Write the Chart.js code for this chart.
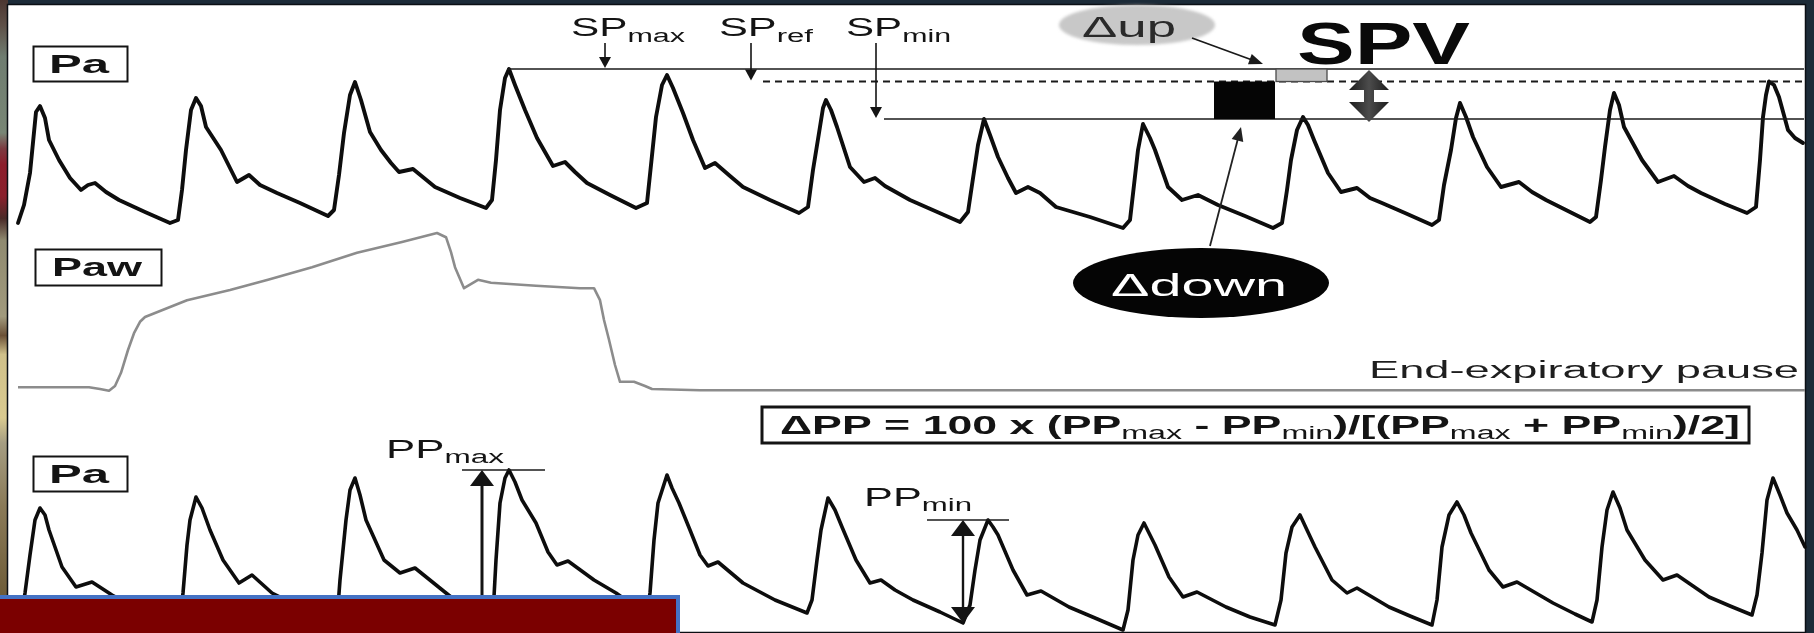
<!DOCTYPE html>
<html>
<head>
<meta charset="utf-8">
<title>Pa / Paw – SPV and ΔPP</title>
<style>
  html, body { margin: 0; padding: 0; background: #1c2b38; overflow: hidden; }
  #wrap { position: absolute; left: 0; top: 0; width: 1814px; height: 633px; }
  canvas { display: block; }
</style>
<script src="https://cdn.jsdelivr.net/npm/chart.js"></script>
</head>
<body>
<div id="wrap"><canvas id="c" width="1814" height="633"></canvas></div>
<script>
// ---- Arterial pressure, top trace (time in ms, pressure in mmHg) ----
const paTopTime = [
  0,30,60,90,110,135,155,205,260,315,
  350,385,440,505,635,760,800,820,840,865,
  890,915,940,1015,1060,1095,1155,1210,1295,1410,
  1550,1580,1605,1630,1660,1685,1715,1760,1815,1865,
  1905,1975,2030,2085,2210,2340,2370,2390,2410,2435,
  2455,2485,2535,2595,2675,2735,2785,2845,2960,3090,
  3145,3165,3190,3220,3245,3275,3325,3375,3435,3485,
  3560,3625,3760,3905,3950,3975,4005,4025,4040,4065,
  4095,4160,4230,4285,4335,4460,4585,4710,4750,4770,
  4800,4830,4860,4900,4950,4990,5050,5110,5190,5360,
  5525,5560,5580,5600,5625,5660,5685,5750,5820,5900,
  6000,6135,6275,6320,6345,6365,6395,6425,6450,6480,
  6550,6615,6695,6760,6820,6935,7070,7105,7130,7165,
  7190,7210,7240,7275,7345,7415,7505,7570,7640,7760,
  7860,7890,7915,7935,7960,7980,8005,8030,8120,8200,
  8280,8350,8415,8535,8645,8690,8710,8725,8740,8755,
  8780,8805,8850,8885,8925
];
const paTopPressure = [
  58.4,65.6,78.4,102.8,105.2,100.4,91.6,83.6,76.4,71.6,
  73.6,74.4,70.8,67.6,62.8,58.4,59.6,71.6,87.6,103.6,
  108.4,105.2,96.8,87.6,80.4,74.8,77.6,73.6,70.4,66.4,
  61.2,63.6,77.6,94.4,109.6,114.8,107.6,94.8,87.6,82.4,
  78.8,80.0,76.4,72.8,68.4,64.4,67.6,83.6,103.6,116.4,
  120.0,113.6,103.6,92.4,81.2,82.8,78.8,74.4,69.6,64.4,
  66.4,81.6,100.8,113.6,117.6,112.4,102.4,91.6,80.4,82.4,
  77.2,72.8,67.6,62.4,64.8,79.6,94.4,104.4,107.6,103.6,
  96.8,80.8,74.8,76.4,73.2,67.6,63.2,58.8,62.8,73.6,
  89.6,100.0,93.6,84.8,76.4,70.4,72.8,70.4,64.8,60.8,
  56.4,59.6,73.6,87.6,98.0,92.4,87.6,72.8,67.6,69.6,
  65.6,61.2,56.4,58.4,71.6,83.6,95.6,100.8,97.6,91.6,
  78.4,70.8,72.4,68.4,66.4,62.4,57.6,59.6,73.6,87.6,
  100.4,106.4,100.8,92.8,80.8,72.8,74.8,70.8,67.6,62.8,
  58.8,60.8,75.6,88.8,103.6,110.4,105.6,96.8,83.6,74.8,
  77.2,73.2,70.4,66.0,62.4,64.8,83.6,100.8,109.6,115.0,
  113.6,108.8,95.6,92.4,90.4
];

// ---- Airway pressure (time in ms, pressure in cmH2O) ----
const pawTime = [
  0,355,410,455,485,515,550,580,610,635,
  845,1060,1250,1470,1695,1920,2095,2140,2165,2185,
  2230,2300,2365,2590,2810,2880,2910,2930,2955,2985,
  3010,3080,3135,3170,3410,8935
];
const pawPressure = [
  4.8,4.8,4.5,4.2,5.0,7.2,11.0,13.8,15.7,16.5,
  19.3,21.0,22.7,24.8,27.2,29.0,30.5,29.8,27.3,24.8,
  21.3,22.7,22.2,21.7,21.3,21.3,19.3,16.0,12.7,8.5,
  5.7,5.7,5.0,4.5,4.3,4.3
];

// ---- Arterial pressure, bottom trace (time in ms, pressure in mmHg) ----
const paBotTime = [
  10,35,60,85,110,135,155,220,290,370,470,610,785,810,825,845,860,890,920,960,
  1025,1105,1170,1270,1410,1570,1595,1610,1640,1660,1685,1710,1740,1830,1910,1985,
  2140,2260,2350,2375,2390,2410,2435,2455,2485,2520,2590,2650,2695,2750,2880,2990,
  3110,3135,3160,3180,3200,3245,3270,3305,3360,3410,3450,3500,3625,3785,3945,
  3970,3995,4015,4050,4085,4120,4190,4260,4315,4385,4475,4610,4725,
  4760,4785,4810,4850,4875,4900,4975,5045,5115,5255,5385,5525,
  5550,5575,5600,5630,5660,5685,5755,5825,5895,6040,6160,6285,
  6315,6340,6370,6410,6445,6485,6570,6645,6695,6855,6960,7070,
  7095,7120,7155,7195,7230,7265,7355,7425,7495,7675,7785,7870,
  7895,7920,7945,7975,8010,8045,8135,8225,8295,8455,8560,8670,
  8695,8720,8745,8775,8810,8845,8895,8935
];
const paBotPressure = [
  58.0,70.8,86.0,100.0,104.8,102.0,96.0,81.2,73.2,75.2,70.0,64.0,57.6,60.0,70.8,90.0,100.0,109.2,104.8,96.0,
  84.0,74.8,78.0,70.8,65.2,56.8,60.0,76.0,100.0,112.0,116.8,110.0,100.0,84.0,78.8,80.8,
  70.8,63.2,56.8,62.0,84.0,106.8,116.8,120.0,115.2,108.0,98.8,87.2,82.0,83.6,76.0,70.8,
  64.0,58.0,70.8,92.0,106.8,118.0,112.8,106.8,96.0,86.0,81.6,83.2,74.8,68.0,62.8,
  68.0,84.0,96.0,108.8,104.0,97.2,84.0,74.8,76.0,72.0,68.0,63.2,58.8,
  66.0,80.0,92.0,100.0,97.2,94.0,80.0,70.0,71.6,65.2,60.8,56.0,
  64.0,84.0,94.0,98.8,94.0,90.0,77.2,69.2,71.2,65.2,61.2,58.0,
  68.0,86.8,97.2,102.0,96.0,89.2,76.0,70.8,72.8,65.2,61.6,58.0,
  68.0,89.2,102.0,107.2,102.0,94.8,80.0,73.2,75.2,66.8,62.4,59.2,
  68.0,89.2,104.0,111.2,104.8,96.0,84.0,76.0,78.0,69.2,65.6,62.0,
  70.0,86.8,108.0,116.8,110.0,102.8,96.0,89.2
];

// Systolic reference levels (mmHg) and pulse-pressure peaks / feet (mmHg)
const spLevels = { max: 120, ref: 115, min: 100 };
const ppLevels = { max: 120, min: 100 };
const ppFeet   = { max: 56.8, min: 58.8 };

const toPoints = (ts, vs) => ts.map((t, i) => ({ x: t, y: vs[i] }));

const FONT = '"Liberation Sans", Arial, Helvetica, sans-serif';
const fontStr = (size, bold) => (bold ? 'bold ' : '') + size + 'px ' + FONT;

// Text runs (with subscripts) stretched to a given width
function richText(ctx, parts, left, base, width, o) {
  let nat = 0;
  for (const [t, sub] of parts) {
    ctx.font = fontStr(sub ? o.sub : o.size, sub ? o.subBold : o.bold);
    nat += ctx.measureText(t).width;
  }
  const k = width / nat;
  ctx.save();
  ctx.translate(left, base);
  ctx.scale(k, 1);
  ctx.fillStyle = o.color || '#111';
  ctx.textBaseline = 'alphabetic';
  ctx.textAlign = 'left';
  let cx = 0;
  for (const [t, sub] of parts) {
    ctx.font = fontStr(sub ? o.sub : o.size, sub ? o.subBold : o.bold);
    ctx.fillText(t, cx, sub ? o.drop : 0);
    cx += ctx.measureText(t).width;
  }
  ctx.restore();
}

function arrowHead(ctx, x1, y1, x2, y2, len, w) {
  const a = Math.atan2(y2 - y1, x2 - x1);
  const bx = x2 - len * Math.cos(a), by = y2 - len * Math.sin(a);
  ctx.beginPath();
  ctx.moveTo(x2, y2);
  ctx.lineTo(bx + (w / 2) * Math.sin(a), by - (w / 2) * Math.cos(a));
  ctx.lineTo(bx - (w / 2) * Math.sin(a), by + (w / 2) * Math.cos(a));
  ctx.closePath();
  ctx.fill();
}

function arrow(ctx, x1, y1, x2, y2, lw, len, w, color) {
  ctx.save();
  ctx.strokeStyle = color; ctx.fillStyle = color; ctx.lineWidth = lw;
  const a = Math.atan2(y2 - y1, x2 - x1);
  ctx.beginPath();
  ctx.moveTo(x1, y1);
  ctx.lineTo(x2 - (len - 1) * Math.cos(a), y2 - (len - 1) * Math.sin(a));
  ctx.stroke();
  arrowHead(ctx, x1, y1, x2, y2, len, w);
  ctx.restore();
}

function hLine(ctx, x1, x2, y, lw, color, dash) {
  ctx.save();
  ctx.strokeStyle = color; ctx.lineWidth = lw;
  if (dash) ctx.setLineDash(dash);
  ctx.beginPath(); ctx.moveTo(x1, y); ctx.lineTo(x2, y); ctx.stroke();
  ctx.restore();
}

const decor = {
  id: 'decor',
  beforeDraw(chart) {
    const ctx = chart.ctx, W = chart.width, H = chart.height;
    ctx.save();
    ctx.fillStyle = '#1c2b38';
    ctx.fillRect(0, 0, W, H);
    // photo strip on the left margin
    const g = ctx.createLinearGradient(0, 0, 0, H);
    [[0, '#4c3631'], [0.04, '#5e5048'], [0.09, '#6f7d71'], [0.21, '#788675'], [0.235, '#7c3a40'],
     [0.26, '#8c1d2b'], [0.31, '#8a1f2c'], [0.345, '#4a2a28'], [0.38, '#8f8a70'], [0.5, '#a19a7d'],
     [0.53, '#6b5036'], [0.56, '#cfc08a'], [0.66, '#d9ca90'], [0.70, '#a59d82'], [0.8, '#8a7a58'],
     [0.94, '#6e5c38'], [1, '#5a4a30']].forEach(([p, c]) => g.addColorStop(p, c));
    ctx.fillStyle = g;
    ctx.fillRect(0, 0, 8, H);
    // white sheet
    ctx.fillStyle = '#ffffff';
    ctx.fillRect(8, 5, 1797, 627);
    ctx.strokeStyle = '#0b0f14'; ctx.lineWidth = 1.5;
    ctx.strokeRect(7.5, 4.5, 1798, 628);
    ctx.restore();
  },
  afterDatasetsDraw(chart) {
    const ctx = chart.ctx, s = chart.scales;
    const X = t => s.x.getPixelForValue(t);
    const YT = v => s.yTop.getPixelForValue(v);
    const YB = v => s.yBot.getPixelForValue(v);
    const RIGHT = 1804;
    const ink = '#141414';

    // channel tags
    ctx.save();
    ctx.strokeStyle = ink; ctx.lineWidth = 2;
    [[33, 46, 94, 35, 'Pa', 49, 60], [35, 249, 126, 36, 'Paw', 52, 90], [33, 456, 94, 35, 'Pa', 49, 60]]
      .forEach(([x, y, w, h, t, tx, tw]) => {
        ctx.strokeRect(x + 0.5, y + 0.5, w, h);
        richText(ctx, [[t, 0]], tx, y + h / 2 + 9, tw, { size: 25, bold: true, color: ink });
      });
    ctx.restore();

    // SP reference lines
    const tPeakMax = paTopTime[paTopPressure.indexOf(spLevels.max)];
    hLine(ctx, X(tPeakMax) - 2, RIGHT, YT(spLevels.max), 1.6, '#1a1a1a');
    hLine(ctx, X(3725), RIGHT, YT(spLevels.ref), 2.2, '#1a1a1a', [7, 5]);
    hLine(ctx, X(4330), RIGHT, YT(spLevels.min), 1.6, '#1a1a1a');

    // SP labels with pointers
    const spOpts = { size: 25, sub: 18, drop: 6, color: ink };
    richText(ctx, [['SP', 0], ['max', 1]], 571, 36, 114, spOpts);
    richText(ctx, [['SP', 0], ['ref', 1]], 719, 36, 94, spOpts);
    richText(ctx, [['SP', 0], ['min', 1]], 846, 36, 105, spOpts);
    arrow(ctx, X(2935), 43, X(2935), YT(spLevels.max) - 1, 1.6, 11, 12, ink);
    arrow(ctx, X(3665), 43, X(3665), YT(spLevels.ref) - 1, 1.6, 11, 12, ink);
    arrow(ctx, X(4290), 43, X(4290), YT(spLevels.min) - 1, 1.6, 11, 12, ink);

    // Δup (grey) and Δdown (black) bars
    ctx.save();
    const gx1 = X(6290), gx2 = X(6545);
    ctx.fillStyle = '#c2c2c2';
    ctx.fillRect(gx1, YT(spLevels.max), gx2 - gx1, YT(spLevels.ref) - YT(spLevels.max));
    ctx.strokeStyle = '#4a4a4a'; ctx.lineWidth = 1.3;
    ctx.strokeRect(gx1, YT(spLevels.max), gx2 - gx1, YT(spLevels.ref) - YT(spLevels.max));
    const bx1 = X(5980), bx2 = X(6285);
    ctx.fillStyle = '#050505';
    ctx.fillRect(bx1, YT(spLevels.ref), bx2 - bx1, YT(spLevels.min) - YT(spLevels.ref));
    ctx.restore();

    // SPV double arrow
    ctx.save();
    const ax = X(6755), y1 = YT(spLevels.max) + 1, y2 = YT(spLevels.min) + 3;
    const ag = ctx.createLinearGradient(ax - 20, 0, ax + 20, 0);
    ag.addColorStop(0, '#1c1c1c'); ag.addColorStop(0.5, '#4c4c4c'); ag.addColorStop(1, '#1c1c1c');
    ctx.fillStyle = ag;
    ctx.beginPath();
    ctx.moveTo(ax, y1);
    ctx.lineTo(ax + 20, y1 + 20); ctx.lineTo(ax + 5, y1 + 20);
    ctx.lineTo(ax + 5, y2 - 20); ctx.lineTo(ax + 20, y2 - 20);
    ctx.lineTo(ax, y2);
    ctx.lineTo(ax - 20, y2 - 20); ctx.lineTo(ax - 5, y2 - 20);
    ctx.lineTo(ax - 5, y1 + 20); ctx.lineTo(ax - 20, y1 + 20);
    ctx.closePath(); ctx.fill();
    ctx.restore();
    richText(ctx, [['SPV', 0]], 1297, 64, 173, { size: 59, bold: true, color: '#0a0a0a' });

    // Δup bubble
    ctx.save();
    ctx.filter = 'blur(1.6px)';
    ctx.fillStyle = '#c8c8c8';
    ctx.beginPath(); ctx.ellipse(1137, 25, 78, 20, 0, 0, Math.PI * 2); ctx.fill();
    ctx.restore();
    richText(ctx, [['Δup', 0]], 1082, 37, 94, { size: 30, color: '#2a2a2a' });
    arrow(ctx, 1192, 38, 1263, 64, 1.8, 14, 11, '#1a1a1a');

    // Δdown bubble
    ctx.save();
    ctx.fillStyle = '#050505';
    ctx.beginPath(); ctx.ellipse(1201, 283, 128, 35, 0, 0, Math.PI * 2); ctx.fill();
    ctx.restore();
    richText(ctx, [['Δdown', 0]], 1111, 296, 176, { size: 32, color: '#ffffff' });
    arrow(ctx, 1210, 246, 1241, 127, 1.8, 14, 12, '#222222');

    // end-expiratory pause note
    richText(ctx, [['End-expiratory pause', 0]], 1369, 378, 430, { size: 23, color: '#1e1e1e' });

    // ΔPP formula
    ctx.save();
    ctx.strokeStyle = ink; ctx.lineWidth = 3;
    ctx.strokeRect(762, 407, 987, 36);
    ctx.restore();
    richText(ctx, [['ΔPP = 100 x (PP', 0], ['max', 1], [' - PP', 0], ['min', 1], [')/[(PP', 0],
                   ['max', 1], [' + PP', 0], ['min', 1], [')/2]', 0]],
             780, 434, 960, { size: 25, bold: true, sub: 18, drop: 5, color: ink });

    // PPmax marker
    hLine(ctx, X(2220), X(2635), YB(ppLevels.max), 1.5, '#1a1a1a');
    arrow(ctx, X(2320), YB(ppFeet.max), X(2320), YB(ppLevels.max), 3, 16, 24, ink);
    richText(ctx, [['PP', 0], ['max', 1]], 386, 458, 118, { size: 25, sub: 18, drop: 5, color: ink });

    // PPmin marker
    hLine(ctx, X(4545), X(4955), YB(ppLevels.min), 1.5, '#1a1a1a');
    const px = X(4725), pTop = YB(ppLevels.min), pBot = YB(ppFeet.min);
    ctx.save();
    ctx.strokeStyle = ink; ctx.fillStyle = ink; ctx.lineWidth = 2.4;
    ctx.beginPath(); ctx.moveTo(px, pTop + 12); ctx.lineTo(px, pBot - 12); ctx.stroke();
    arrowHead(ctx, px, pBot, px, pTop, 16, 24);
    arrowHead(ctx, px, pTop, px, pBot, 16, 24);
    ctx.restore();
    richText(ctx, [['PP', 0], ['min', 1]], 864, 506, 108, { size: 25, sub: 18, drop: 5, color: ink });
  },
  afterDraw(chart) {
    const ctx = chart.ctx;
    // title bar placeholder at the lower left
    ctx.save();
    ctx.fillStyle = '#7b0000';
    ctx.fillRect(0, 596, 679, 37);
    ctx.strokeStyle = '#4472c4'; ctx.lineWidth = 4;
    ctx.strokeRect(-2, 597, 680, 38);
    ctx.restore();
  }
};

new Chart(document.getElementById('c'), {
  type: 'line',
  data: {
    datasets: [
      { label: 'Pa', data: toPoints(paTopTime, paTopPressure), yAxisID: 'yTop',
        borderColor: '#0d0d0d', borderWidth: 3.9, pointRadius: 0, tension: 0,
        borderJoinStyle: 'round', borderCapStyle: 'round' },
      { label: 'Paw', data: toPoints(pawTime, pawPressure), yAxisID: 'yPaw',
        borderColor: '#8c8c8c', borderWidth: 2.6, pointRadius: 0, tension: 0,
        borderJoinStyle: 'round' },
      { label: 'Pa', data: toPoints(paBotTime, paBotPressure), yAxisID: 'yBot',
        borderColor: '#0d0d0d', borderWidth: 3.6, pointRadius: 0, tension: 0,
        borderJoinStyle: 'round', borderCapStyle: 'round' }
    ]
  },
  options: {
    responsive: false,
    devicePixelRatio: 1,
    animation: false,
    events: [],
    layout: { padding: 0 },
    plugins: { legend: { display: false }, tooltip: { enabled: false } },
    scales: {
      x:    { type: 'linear', display: false, min: -90, max: 8980 },
      yTop: { type: 'linear', display: false, min: -105.6, max: 147.6 },
      yPaw: { type: 'linear', display: false, min: -36.1667, max: 69.3333 },
      yBot: { type: 'linear', display: false, min: 54.8, max: 308 }
    }
  },
  plugins: [decor]
});
</script>
</body>
</html>
